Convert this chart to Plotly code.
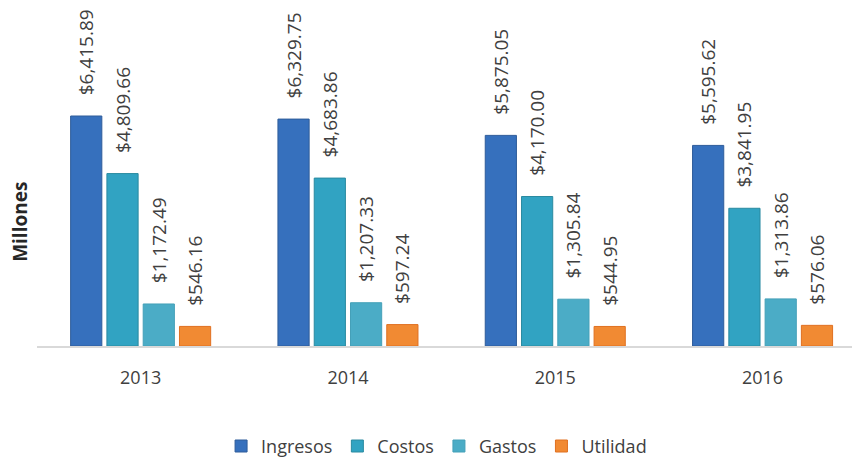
import plotly.graph_objects as go

years = ["2013", "2014", "2015", "2016"]
ingresos = [6415.89, 6329.75, 5875.05, 5595.62]
costos = [4809.66, 4683.86, 4170.00, 3841.95]
gastos = [1172.49, 1207.33, 1305.84, 1313.86]
utilidad = [546.16, 597.24, 544.95, 576.06]

series = [
    ("Ingresos", ingresos, "#3670BD", "#2E5C9A"),
    ("Costos", costos, "#31A3C2", "#2A8AA0"),
    ("Gastos", gastos, "#4BACC6", "#45A0B8"),
    ("Utilidad", utilidad, "#F18A33", "#E07020"),
]

FONT = "Open Sans"
PAD = '<span style="color:rgba(0,0,0,0)">__</span>'
fig = go.Figure()
for name, vals, col, line in series:
    fig.add_trace(go.Bar(
        name=name, x=years, y=vals,
        marker=dict(color=col, line=dict(color=line, width=1)),
        text=[PAD + "$" + f"{v:,.2f}" for v in vals],
        textposition="outside", textangle=-90, constraintext="none",
        textfont=dict(family=FONT, size=19, color="#404040"),
        cliponaxis=False,
    ))

fig.update_layout(
    width=852, height=450,
    margin=dict(l=29, r=0, t=23, b=112, autoexpand=False),
    paper_bgcolor="#FFFFFF", plot_bgcolor="rgba(0,0,0,0)",
    barmode="group", bargap=0.30, bargroupgap=0.14,
    font=dict(family=FONT, size=18, color="#404040"),
    showlegend=True,
    legend=dict(orientation="h", x=0.4855, xanchor="center",
                yref="container", y=0.026, yanchor="middle",
                font=dict(family=FONT, size=18, color="#404040"),
                itemwidth=30, tracegroupgap=0, traceorder="normal"),
)
fig.update_xaxes(range=[-0.5, 3.47], showline=True, linecolor="#D9D9D9", linewidth=2,
                 ticks="", ticklabelstandoff=14,
                 tickfont=dict(family=FONT, size=18, color="#404040"), showgrid=False)
fig.update_yaxes(range=[0, 8787], visible=False, showgrid=False, zeroline=False)
fig.add_annotation(text="<b>Millones</b>", textangle=-90, xref="paper", yref="paper",
                   x=-0.0207, y=0.394, xanchor="center", yanchor="middle", showarrow=False,
                   font=dict(family=FONT, size=19, color="#262626"))
fig.write_html("out.html")
